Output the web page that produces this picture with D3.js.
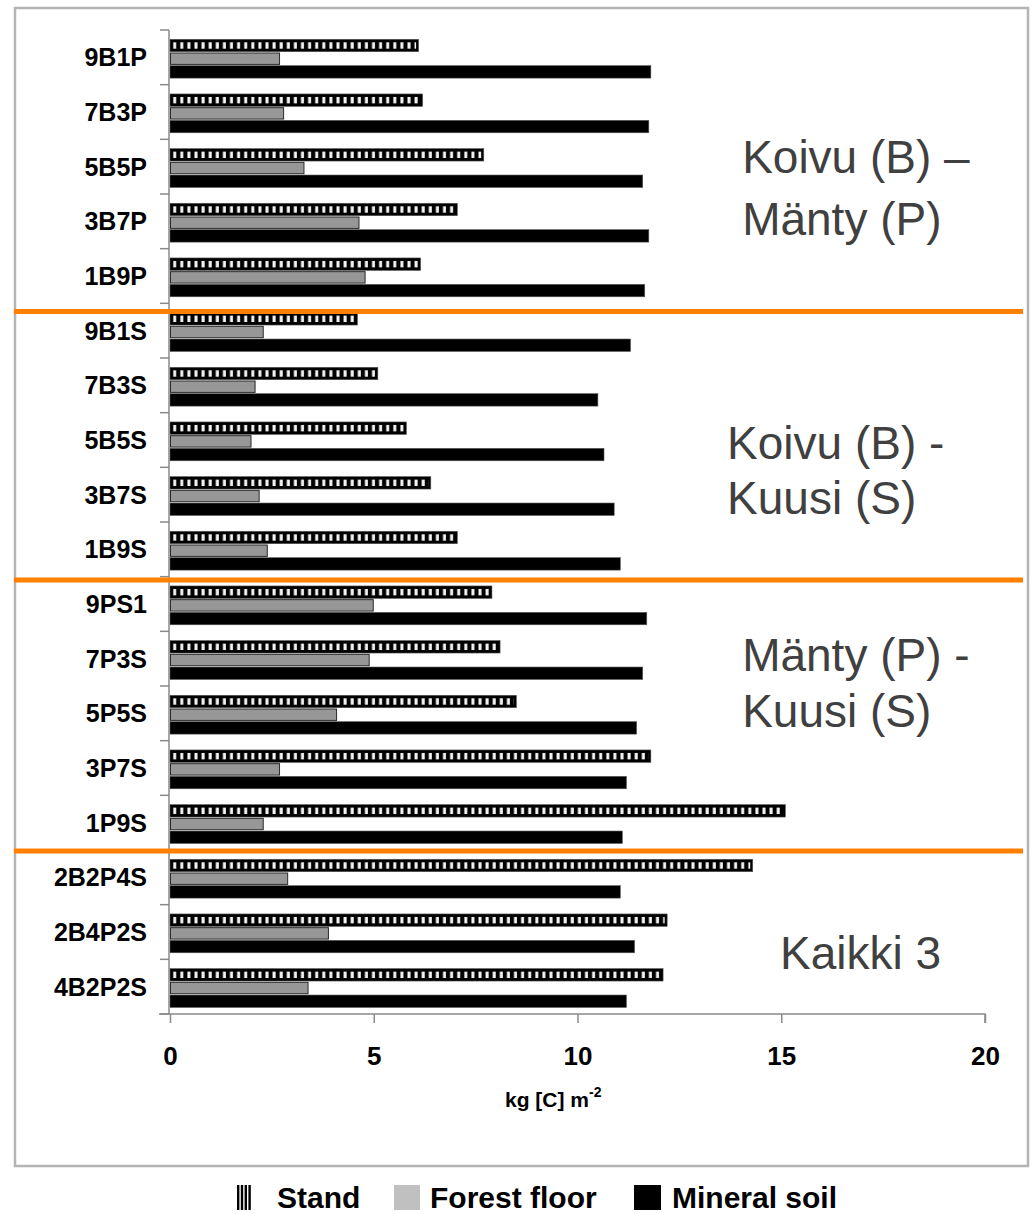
<!DOCTYPE html>
<html><head><meta charset="utf-8">
<script src="https://cdn.jsdelivr.net/npm/d3@7/dist/d3.min.js"></script>
<style>body{margin:0;background:#fff}svg{display:block}</style>
</head><body>
<svg id="c" width="1034" height="1214"></svg>
<script>
const categories = ["9B1P","7B3P","5B5P","3B7P","1B9P","9B1S","7B3S","5B5S","3B7S","1B9S","9PS1","7P3S","5P5S","3P7S","1P9S","2B2P4S","2B4P2S","4B2P2S"];
const stand = [6.1,6.2,7.7,7.05,6.15,4.6,5.1,5.8,6.4,7.05,7.9,8.1,8.5,11.8,15.1,14.3,12.2,12.1];
const forestFloor = [2.7,2.8,3.3,4.65,4.8,2.3,2.1,2.0,2.2,2.4,5.0,4.9,4.1,2.7,2.3,2.9,3.9,3.4];
const mineralSoil = [11.8,11.75,11.6,11.75,11.65,11.3,10.5,10.65,10.9,11.05,11.7,11.6,11.45,11.2,11.1,11.05,11.4,11.2];
const seriesNames = ["Stand","Forest floor","Mineral soil"];
const xTicks = [0,5,10,15,20];
const separators = [5.15,10.06,15.02]; // in band units
const annotations = [
  {lines:["Koivu (B) \u2013","M\u00e4nty (P)"], x:14.04, band:[2.62,3.75]},
  {lines:["Koivu (B) -","Kuusi (S)"], x:13.67, band:[7.85,8.85]},
  {lines:["M\u00e4nty (P) -","Kuusi (S)"], x:14.04, band:[11.72,12.75]},
  {lines:["Kaikki 3"], x:14.97, band:[17.18]}
];

const svg = d3.select("#c");
const F = "'Liberation Sans', Arial, sans-serif";
const axisCol = "#8a8a8a";

svg.append("rect").attr("x",15).attr("y",8).attr("width",1013).attr("height",1158)
  .attr("fill","none").attr("stroke","#b4b4b4").attr("stroke-width",2.5);

const x = d3.scaleLinear().domain([0,20]).range([170,985]);
const y = d3.scaleBand().domain(categories).range([30,1014]).padding(0);
const step = y.step();
const inner = d3.scaleBand().domain(seriesNames).range([step*0.17, step*0.88]).paddingInner(0.06);
const yb = b => 30 + b*step;

const defs = svg.append("defs");
const pat = defs.append("pattern").attr("id","hatch").attr("patternUnits","userSpaceOnUse")
  .attr("x",x(0)+1).attr("width",7.1).attr("height",10);
pat.append("rect").attr("x",0).attr("y",0).attr("width",7.1).attr("height",10).attr("fill","#000");
pat.append("rect").attr("x",2.2).attr("y",0).attr("width",3).attr("height",10).attr("fill","#f4f4f4");

const rows = categories.map((c,i)=>({c, s:stand[i], f:forestFloor[i], m:mineralSoil[i]}));
const g = svg.append("g");
rows.forEach(r=>{
  const y0 = y(r.c);
  const ys = y0 + inner("Stand"), hs = inner.bandwidth();
  g.append("rect").attr("x",x(0)).attr("y",ys).attr("width",x(r.s)-x(0)).attr("height",hs)
    .attr("fill","#000").attr("stroke","#555").attr("stroke-width",0.6);
  g.append("rect").attr("x",x(0)+2.5).attr("y",ys+3).attr("width",Math.max(0,x(r.s)-x(0)-5)).attr("height",hs-6)
    .attr("fill","url(#hatch)");
  const yf = y0 + inner("Forest floor"), hf = inner.bandwidth();
  g.append("rect").attr("x",x(0)+0.5).attr("y",yf+0.5).attr("width",x(r.f)-x(0)-1).attr("height",hf-1)
    .attr("fill","#979797").attr("stroke","#2a2a2a").attr("stroke-width",1);
  const ym = y0 + inner("Mineral soil"), hm = inner.bandwidth();
  g.append("rect").attr("x",x(0)).attr("y",ym).attr("width",x(r.m)-x(0)).attr("height",hm)
    .attr("fill","#000").attr("stroke","#555").attr("stroke-width",0.6);
});

const yAxisG = svg.append("g");
yAxisG.append("line").attr("x1",169).attr("x2",169).attr("y1",30).attr("y2",1014).attr("stroke",axisCol).attr("stroke-width",1.5);
d3.range(categories.length+1).forEach(k=>{
  yAxisG.append("line").attr("x1",160).attr("x2",169).attr("y1",yb(k)).attr("y2",yb(k)).attr("stroke",axisCol).attr("stroke-width",1.5);
});
categories.forEach(c=>{
  yAxisG.append("text").attr("x",147).attr("y",y(c)+step/2).attr("dy","0.36em").attr("text-anchor","end")
    .attr("font-family",F).attr("font-weight","bold").attr("font-size",25).attr("fill","#000").text(c);
});

const xAxis = d3.axisBottom(x).tickValues(xTicks).tickSize(9).tickPadding(24).tickFormat(d3.format("d"));
const xg = svg.append("g").attr("transform","translate(0,1014)").call(xAxis);
xg.select(".domain").attr("d",`M159,0H${x(20)}V9`).attr("stroke",axisCol).attr("stroke-width",1.5);
xg.selectAll(".tick line").attr("stroke",axisCol).attr("stroke-width",1.5);
xg.selectAll(".tick text").attr("font-family",F).attr("font-weight","bold").attr("font-size",26).attr("fill","#000");

const t = svg.append("text").attr("x",505).attr("y",1107).attr("font-family",F).attr("font-weight","bold").attr("font-size",21).attr("fill","#000");
t.append("tspan").text("kg [C] m");
t.append("tspan").attr("dy",-10).attr("font-size",14).text("-2");

separators.forEach(s=>{
  svg.append("line").attr("x1",14).attr("x2",1023).attr("y1",yb(s)).attr("y2",yb(s))
    .attr("stroke","#ff8000").attr("stroke-width",5);
});

annotations.forEach(a=>{
  a.lines.forEach((ln,i)=>{
    svg.append("text").attr("x",x(a.x)).attr("y",yb(a.band[i])).attr("font-family",F)
      .attr("font-size",46).attr("fill","#404040").text(ln);
  });
});

const lg = svg.append("g").attr("font-family",F).attr("font-weight","bold").attr("font-size",30).attr("fill","#000");
d3.range(4).forEach(k=>{
  lg.append("rect").attr("x",237+k*3.8).attr("y",1185).attr("width",2.4).attr("height",25).attr("fill","#000");
});
lg.append("text").attr("x",277).attr("y",1208).text(seriesNames[0]);
lg.append("rect").attr("x",394).attr("y",1185).attr("width",26).attr("height",25).attr("fill","#c0c0c0");
lg.append("text").attr("x",430).attr("y",1208).text(seriesNames[1]);
lg.append("rect").attr("x",634).attr("y",1185).attr("width",27).attr("height",25).attr("fill","#000");
lg.append("text").attr("x",672).attr("y",1208).text(seriesNames[2]);
</script>
</body></html>
